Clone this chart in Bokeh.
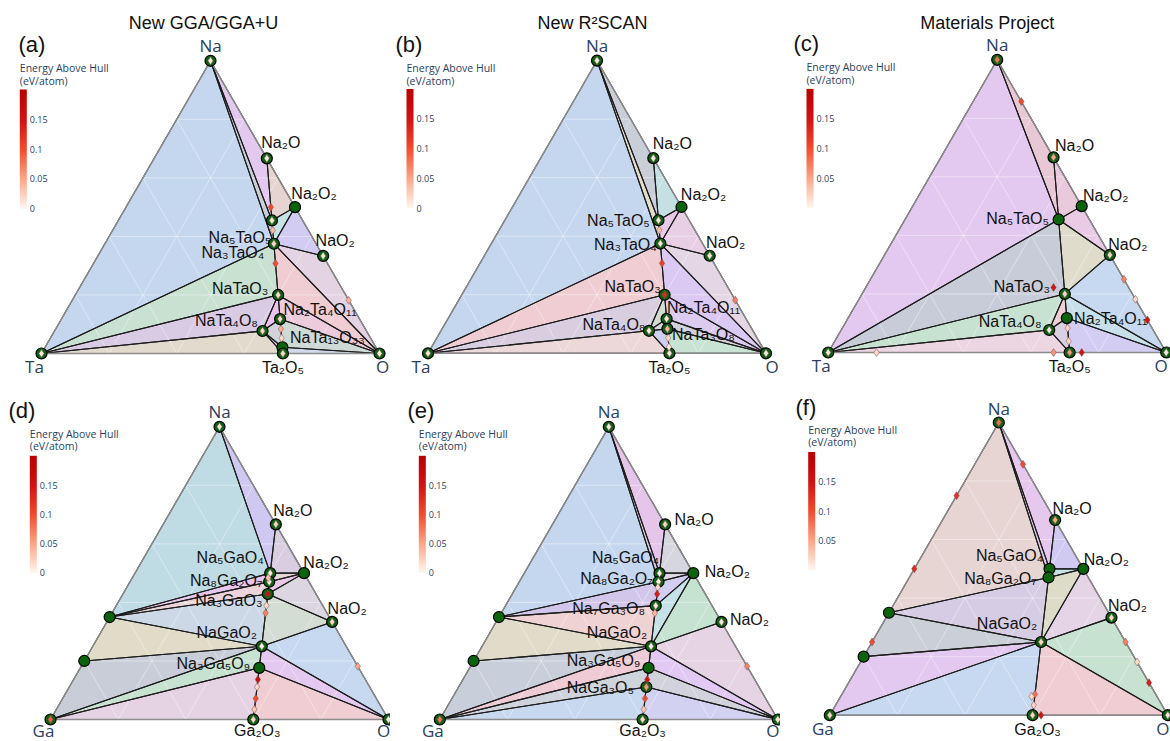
import numpy as np
from bokeh.plotting import figure
from bokeh.models import (Range1d, LinearColorMapper, ColorBar, FixedTicker,
                          CustomJSTickFormatter, Label, ColumnDataSource)
from bokeh.layouts import row, column
from bokeh.core.properties import value
from bokeh.embed import file_html
from bokeh.resources import INLINE

# ============================ DATA ============================
# compositions as atom counts (Na, M, O)
COMP_TA = {
    "Na": (1, 0, 0), "Ta": (0, 1, 0), "O": (0, 0, 1),
    "Na2O": (2, 0, 1), "Na2O2": (2, 0, 2), "NaO2": (1, 0, 2),
    "Na5TaO5": (5, 1, 5), "Na3TaO4": (3, 1, 4), "NaTaO3": (1, 1, 3),
    "Na2Ta4O11": (2, 4, 11), "NaTa4O8": (1, 4, 8), "NaTa13O33": (1, 13, 33),
    "NaTa3O8": (1, 3, 8), "Ta2O5": (0, 2, 5),
    "Na7TaO6": (7, 1, 6), "Na8Ta2O9": (8, 2, 9), "Na4Ta2O7": (4, 2, 7),
    "NaTa5O13": (1, 5, 13), "Na2O9": (2, 0, 9), "Na6O": (6, 0, 1),
    "NaO3": (1, 0, 3), "NaO8": (1, 0, 8), "Na2Ta2O5": (2, 2, 5),
    "TaO2": (0, 1, 2), "TaO3": (0, 1, 3), "NaTa7O18": (1, 7, 18), "Ta6O": (0, 6, 1),
}
COMP_GA = {
    "Na": (1, 0, 0), "Ga": (0, 1, 0), "O": (0, 0, 1),
    "Na2O": (2, 0, 1), "Na2O2": (2, 0, 2), "NaO2": (1, 0, 2),
    "Na5GaO4": (5, 1, 4), "Na8Ga2O7": (8, 2, 7), "Na3GaO3": (3, 1, 3),
    "Na7Ga3O8": (7, 3, 8), "NaGaO2": (1, 1, 2), "Na3Ga5O9": (3, 5, 9),
    "NaGa3O5": (1, 3, 5), "Ga2O3": (0, 2, 3), "Na7Ga13": (7, 13, 0), "NaGa4": (1, 4, 0),
    "Na4Ga2O5": (4, 2, 5), "Na3Ga7O12": (3, 7, 12), "NaGa5O8": (1, 5, 8),
    "NaGa11O17": (1, 11, 17), "Na14Ga4O13": (14, 4, 13), "Na2O9": (2, 0, 9),
    "Na6O": (6, 0, 1), "NaO3": (1, 0, 3), "NaO8": (1, 0, 8),
    "Na3Ga": (3, 1, 0), "NaGa": (1, 1, 0), "NaGa3": (1, 3, 0), "Ga3O5": (0, 3, 5),
    "x_d1": (0.484, 0.114, 0.402), "x_f1": (0.064, 0.371, 0.565),
}

# ---- (a) New GGA/GGA+U, Na-Ta-O
A_STABLE = ["Na", "Ta", "O", "Na2O", "Na2O2", "NaO2", "Na5TaO5", "Na3TaO4", "NaTaO3",
            "Na2Ta4O11", "NaTa4O8", "NaTa13O33", "Ta2O5"]
A_INNER = [0.01, 0.01, 0.01, 0.01, None, 0.01, 0.01, 0.02, 0.015, 0.02, 0.02, None, 0.02]
A_UNSTABLE = ["Na7TaO6", "Na8Ta2O9", "Na4Ta2O7", "NaTa3O8", "NaTa5O13", "Na2O9"]
A_UNSTABLE_E = [0.10, 0.035, 0.10, 0.045, 0.015, 0.04]
A_FACETS = [
    ("Na", "Ta", "Na3TaO4"), ("Na", "Na5TaO5", "Na3TaO4"), ("Na", "Na2O", "Na5TaO5"),
    ("Na2O", "Na2O2", "Na5TaO5"), ("Na5TaO5", "Na2O2", "Na3TaO4"), ("Na3TaO4", "Na2O2", "NaO2"),
    ("Na3TaO4", "NaO2", "O"), ("Na3TaO4", "NaTaO3", "O"), ("NaTaO3", "Na2Ta4O11", "O"),
    ("Na2Ta4O11", "NaTa13O33", "O"), ("NaTa13O33", "Ta2O5", "O"), ("Ta", "Na3TaO4", "NaTaO3"),
    ("Ta", "NaTaO3", "NaTa4O8"), ("Ta", "NaTa4O8", "Ta2O5"), ("NaTaO3", "NaTa4O8", "Na2Ta4O11"),
    ("NaTa4O8", "Na2Ta4O11", "NaTa13O33"), ("NaTa4O8", "NaTa13O33", "Ta2O5"),
]
A_LABELS = ["Na2O", "Na2O2", "NaO2", "Na5TaO5", "Na3TaO4", "NaTaO3", "Na2Ta4O11",
            "NaTa4O8", "NaTa13O33", "Ta2O5"]

# ---- (b) New R2SCAN, Na-Ta-O
B_STABLE = ["Na", "Ta", "O", "Na2O", "Na2O2", "NaO2", "Na5TaO5", "Na3TaO4", "NaTaO3",
            "Na2Ta4O11", "NaTa4O8", "NaTa3O8", "Ta2O5"]
B_INNER = [0.01, 0.01, 0.01, 0.01, None, 0.01, 0.01, 0.01, 0.13, 0.01, 0.01, 0.04, 0.01]
B_UNSTABLE = ["Na8Ta2O9", "Na4Ta2O7", "NaTa5O13", "NaTa13O33", "Na2O9"]
B_UNSTABLE_E = [0.035, 0.11, 0.02, 0.01, 0.07]
B_FACETS = [
    ("Na", "Ta", "Na3TaO4"), ("Na", "Na5TaO5", "Na3TaO4"), ("Na", "Na2O", "Na5TaO5"),
    ("Na2O", "Na2O2", "Na5TaO5"), ("Na5TaO5", "Na2O2", "Na3TaO4"), ("Na3TaO4", "Na2O2", "NaO2"),
    ("Na3TaO4", "NaO2", "O"), ("Na3TaO4", "NaTaO3", "O"), ("NaTaO3", "Na2Ta4O11", "O"),
    ("Na2Ta4O11", "NaTa3O8", "O"), ("NaTa3O8", "Ta2O5", "O"), ("Ta", "Na3TaO4", "NaTaO3"),
    ("Ta", "NaTaO3", "NaTa4O8"), ("Ta", "NaTa4O8", "Ta2O5"), ("NaTaO3", "NaTa4O8", "Na2Ta4O11"),
    ("NaTa4O8", "Na2Ta4O11", "NaTa3O8"), ("NaTa4O8", "NaTa3O8", "Ta2O5"),
]
B_LABELS = ["Na2O", "Na2O2", "NaO2", "Na5TaO5", "Na3TaO4", "NaTaO3", "Na2Ta4O11",
            "NaTa4O8", "NaTa3O8", "Ta2O5"]

# ---- (c) Materials Project, Na-Ta-O
C_STABLE = ["Na", "Ta", "O", "Na2O", "Na2O2", "NaO2", "Na5TaO5", "NaTaO3", "Na2Ta4O11",
            "NaTa4O8", "Ta2O5"]
C_INNER = [0.08, 0.01, 0.01, 0.05, None, 0.02, None, 0.02, None, 0.01, 0.06]
C_UNSTABLE = ["Na6O", "NaO3", "Na2O9", "NaO8", "Na2Ta2O5", "TaO2", "TaO3", "NaTa3O8",
              "NaTa7O18", "Ta6O"]
C_UNSTABLE_E = [0.10, 0.07, 0.02, 0.15, 0.15, 0.06, 0.15, 0.02, 0.02, 0.02]
C_FACETS = [
    ("Na", "Ta", "Na5TaO5"), ("Na", "Na2O", "Na5TaO5"), ("Na2O", "Na2O2", "Na5TaO5"),
    ("Na5TaO5", "Na2O2", "NaO2"), ("Na5TaO5", "NaO2", "NaTaO3"), ("Ta", "Na5TaO5", "NaTaO3"),
    ("NaTaO3", "NaO2", "O"), ("NaTaO3", "Na2Ta4O11", "O"), ("Na2Ta4O11", "Ta2O5", "O"),
    ("Ta", "NaTaO3", "NaTa4O8"), ("Ta", "NaTa4O8", "Ta2O5"), ("NaTaO3", "NaTa4O8", "Na2Ta4O11"),
    ("NaTa4O8", "Na2Ta4O11", "Ta2O5"),
]
C_LABELS = ["Na2O", "Na2O2", "NaO2", "Na5TaO5", "NaTaO3", "Na2Ta4O11", "NaTa4O8", "Ta2O5"]

# ---- (d) New GGA/GGA+U, Na-Ga-O
D_STABLE = ["Na", "Ga", "O", "Na2O", "Na2O2", "NaO2", "Na5GaO4", "Na8Ga2O7", "Na3GaO3",
            "NaGaO2", "Na3Ga5O9", "Ga2O3", "Na7Ga13", "NaGa4"]
D_INNER = [0.01, 0.09, 0.01, 0.02, None, 0.02, 0.005, 0.005, 0.16, 0.005, None, 0.02, None, None]
D_UNSTABLE = ["x_d1", "Na7Ga3O8", "Na4Ga2O5", "Na3Ga7O12", "NaGa3O5", "NaGa5O8",
              "NaGa11O17", "Na2O9"]
D_UNSTABLE_E = [0.03, 0.02, 0.07, 0.16, 0.02, 0.10, 0.03, 0.05]
D_FACETS = [
    ("Na", "Na7Ga13", "Na5GaO4"), ("Na", "Na2O", "Na5GaO4"), ("Na2O", "Na2O2", "Na5GaO4"),
    ("Na5GaO4", "Na2O2", "Na8Ga2O7"), ("Na8Ga2O7", "Na2O2", "Na3GaO3"),
    ("Na3GaO3", "Na2O2", "NaO2"), ("Na3GaO3", "NaO2", "NaGaO2"), ("NaGaO2", "NaO2", "O"),
    ("NaGaO2", "O", "Na3Ga5O9"), ("Na3Ga5O9", "O", "Ga2O3"),
    ("Na7Ga13", "Na5GaO4", "Na8Ga2O7"), ("Na7Ga13", "Na8Ga2O7", "Na3GaO3"),
    ("Na7Ga13", "Na3GaO3", "NaGaO2"), ("Na7Ga13", "NaGa4", "NaGaO2"),
    ("NaGa4", "Ga", "NaGaO2"), ("Ga", "NaGaO2", "Na3Ga5O9"), ("Ga", "Na3Ga5O9", "Ga2O3"),
]
D_LABELS = ["Na2O", "Na2O2", "NaO2", "Na5GaO4", "Na8Ga2O7", "Na3GaO3", "NaGaO2",
            "Na3Ga5O9", "Ga2O3"]

# ---- (e) New R2SCAN, Na-Ga-O
E_STABLE = ["Na", "Ga", "O", "Na2O", "Na2O2", "NaO2", "Na5GaO4", "Na8Ga2O7", "Na7Ga3O8",
            "NaGaO2", "Na3Ga5O9", "NaGa3O5", "Ga2O3", "Na7Ga13", "NaGa4"]
E_INNER = [0.01, 0.08, 0.01, 0.02, None, 0.01, 0.005, 0.005, 0.005, 0.005, None, 0.06,
           0.02, None, None]
E_UNSTABLE = ["Na14Ga4O13", "Na3GaO3", "Na4Ga2O5", "Na3Ga7O12", "NaGa5O8", "NaGa11O17", "Na2O9"]
E_UNSTABLE_E = [0.015, 0.14, 0.04, 0.15, 0.10, 0.03, 0.07]
E_FACETS = [
    ("Na", "Na7Ga13", "Na8Ga2O7"), ("Na", "Na8Ga2O7", "Na5GaO4"), ("Na", "Na5GaO4", "Na2O"),
    ("Na2O", "Na2O2", "Na5GaO4"), ("Na5GaO4", "Na2O2", "Na8Ga2O7"),
    ("Na7Ga13", "Na8Ga2O7", "Na7Ga3O8"), ("Na8Ga2O7", "Na2O2", "Na7Ga3O8"),
    ("Na7Ga3O8", "Na2O2", "NaGaO2"), ("NaGaO2", "Na2O2", "NaO2"), ("NaGaO2", "NaO2", "O"),
    ("NaGaO2", "O", "Na3Ga5O9"), ("Na3Ga5O9", "O", "NaGa3O5"), ("NaGa3O5", "O", "Ga2O3"),
    ("Na7Ga13", "Na7Ga3O8", "NaGaO2"), ("Na7Ga13", "NaGa4", "NaGaO2"),
    ("NaGa4", "Ga", "NaGaO2"), ("Ga", "NaGaO2", "Na3Ga5O9"), ("Ga", "Na3Ga5O9", "NaGa3O5"),
    ("Ga", "NaGa3O5", "Ga2O3"),
]
E_LABELS = ["Na2O", "Na2O2", "NaO2", "Na5GaO4", "Na8Ga2O7", "Na7Ga3O8", "NaGaO2",
            "Na3Ga5O9", "NaGa3O5", "Ga2O3"]

# ---- (f) Materials Project, Na-Ga-O
F_STABLE = ["Na", "Ga", "O", "Na2O", "Na2O2", "NaO2", "Na5GaO4", "Na8Ga2O7", "NaGaO2",
            "Ga2O3", "Na7Ga13", "NaGa4"]
F_INNER = [0.08, 0.02, 0.01, 0.05, None, 0.02, None, None, 0.02, 0.02, None, None]
F_UNSTABLE = ["Na3Ga", "NaGa", "NaGa3", "Na6O", "NaO3", "Na2O9", "NaO8", "NaGa5O8",
              "x_f1", "NaGa11O17", "Ga3O5"]
F_UNSTABLE_E = [0.12, 0.13, 0.10, 0.10, 0.07, 0.02, 0.14, 0.08, 0.02, 0.02, 0.15]
F_FACETS = [
    ("Na", "Na7Ga13", "Na8Ga2O7"), ("Na", "Na8Ga2O7", "Na5GaO4"), ("Na", "Na5GaO4", "Na2O"),
    ("Na2O", "Na2O2", "Na5GaO4"), ("Na5GaO4", "Na2O2", "Na8Ga2O7"),
    ("Na8Ga2O7", "Na2O2", "NaGaO2"), ("NaGaO2", "Na2O2", "NaO2"), ("NaGaO2", "NaO2", "O"),
    ("NaGaO2", "O", "Ga2O3"), ("Na7Ga13", "Na8Ga2O7", "NaGaO2"),
    ("Na7Ga13", "NaGa4", "NaGaO2"), ("NaGa4", "Ga", "NaGaO2"), ("Ga", "NaGaO2", "Ga2O3"),
]
F_LABELS = ["Na2O", "Na2O2", "NaO2", "Na5GaO4", "Na8Ga2O7", "NaGaO2", "Ga2O3"]

TITLES = ["New GGA/GGA+U", "New R²SCAN", "Materials Project"]
PANEL_TAGS = ["(a)", "(b)", "(c)", "(d)", "(e)", "(f)"]
CB_TITLE = ["Energy Above Hull", "(eV/atom)"]
CB_TICKS_FULL = [0, 0.05, 0.1, 0.15]
CB_TICKS_MP = [0.05, 0.1, 0.15]

# ============================ STYLE / LAYOUT ============================
A_COLORS = ["#c5d7ef", "#c9cfd6", "#e3c9ef", "#e5d4cf", "#c6e3e6", "#d2cbf2", "#e4d3e2",
            "#efcdd2", "#ecccdc", "#cfd9d6", "#d0d8ea", "#c8e1d1", "#dacbe5", "#e3dace",
            "#e9c5ea", "#d0d4d8", "#e3d3ea"]
B_COLORS = ["#c5d7ef", "#e2dccb", "#c9ced8", "#c5e0e2", "#e8c9e8", "#e9cfe6", "#e5d6e4",
            "#dbc9f3", "#dccbef", "#d3d0dc", "#c8e3d3", "#efcdd2", "#d8cee0", "#ecd8d8",
            "#d3dccf", "#d8d2e2", "#cdd0f0"]
C_COLORS = ["#e3c9ef", "#e9c8d6", "#eac9dc", "#eacbe6", "#dfdccb", "#c8ccd8", "#c6d9f0",
            "#c8e0ea", "#d3cdf3", "#c8e2d1", "#ecd6e2", "#f0d0d6", "#d9d0e3"]
D_COLORS = ["#bfdbe3", "#cfc9f1", "#d9cde1", "#e6d6d6", "#e8c9e6", "#dcd6e0", "#d3ddd3",
            "#c6d9f0", "#e3c8f0", "#efcdd2", "#e6c6ec", "#ecd3da", "#cdd8e6", "#e0dcc8",
            "#c9cdd8", "#c8e2d1", "#e5d2e3"]
E_COLORS = ["#c5d7ef", "#d8cce6", "#e5c6ea", "#d6d6de", "#dcd8e4", "#d2c7ea", "#d4cdf2",
            "#c6e2e8", "#c6e2d1", "#e6d4e4", "#e1c9f4", "#d1d2dc", "#d3d1f2", "#efd2d2",
            "#e1dcc9", "#c9cfda", "#efcbd5", "#cfd3dc", "#c8d8ee"]
F_COLORS = ["#e7d5d4", "#e0c8ea", "#e6c7ed", "#d0c9f2", "#c6e2e9", "#dcdcc9", "#e5d3e6",
            "#c8e2d2", "#efcdd3", "#d6cde4", "#cacfd8", "#e3c8ef", "#c7d9f0"]

LAYOUTS = [
    dict(size=(390, 377), origin=(41.0, 24.0), cb=(19.3, 169.0, 119), cbt=(19.3, 67.5, 80.5),
         title=(203, 22.5), tag=(18, 44), vert=((0, -15), (-7, 13), (3, 13)),
         off={"Na2O": (14, -16), "Na2O2": (19, -14), "NaO2": (12, -15), "Na5TaO5": (-32, 17),
              "Na3TaO4": (-41, 9), "NaTaO3": (-38, -6), "Na2Ta4O11": (40, -10),
              "NaTa4O8": (-36, -10), "NaTa13O33": (45, -10), "Ta2O5": (0, 14)}),
    dict(size=(390, 377), origin=(37.5, 24.2), cb=(16.0, 169.5, 119), cbt=(16.0, 67.5, 80.5),
         title=(202, 22.5), tag=(5, 44), vert=((0, -15), (-7, 13), (6, 13)),
         off={"Na2O": (19, -15), "Na2O2": (22, -12), "NaO2": (16, -13), "Na5TaO5": (-40, 0),
              "Na3TaO4": (-35, 1), "NaTaO3": (-32, -8), "Na2Ta4O11": (37, -11),
              "NaTa4O8": (-35, -6), "NaTa3O8": (36, 6), "Ta2O5": (0, 14)}),
    dict(size=(390, 377), origin=(47.7, 25.0), cb=(26.0, 169.6, 119), cbt=(26.0, 66.7, 79.5),
         title=(206.7, 22.5), tag=(13, 43), vert=((0, -15), (-7, 13), (-5, 13)),
         off={"Na2O": (21, -12), "Na2O2": (24, -11), "NaO2": (18, -10), "Na5TaO5": (-41, -1),
              "NaTaO3": (-43, -7), "NaTa4O8": (-39, -8), "Na2Ta4O11": (44, 0), "Ta2O5": (0, 14)}),
    dict(size=(390, 364), origin=(50.0, 22.0), cb=(29.3, 168.7, 117), cbt=(29.3, 56.0, 68.7),
         title=None, tag=(8, 33), vert=((0, -15), (-7, 11), (-5, 11)),
         off={"Na2O": (17, -14), "Na2O2": (22, -11), "NaO2": (15, -13), "Na5GaO4": (-40, -16),
              "Na8Ga2O7": (-43, -1), "Na3GaO3": (-39, 6), "NaGaO2": (-35, -14),
              "Na3Ga5O9": (-46, -4), "Ga2O3": (4, 11)}),
    dict(size=(390, 364), origin=(49.3, 22.0), cb=(28.3, 168.7, 117), cbt=(28.3, 56.0, 68.7),
         title=None, tag=(17, 33), vert=((0, -15), (-7, 11), (-5, 11)),
         off={"Na2O": (29, -5), "Na2O2": (34, -2), "NaO2": (28, -2), "Na5GaO4": (-34, -16),
              "Na8Ga2O7": (-42, -3), "Na7Ga3O8": (-47, 3), "NaGaO2": (-34, -14),
              "Na3Ga5O9": (-45, -7), "NaGa3O5": (-46, 1), "Ga2O3": (0, 11)}),
    dict(size=(390, 364), origin=(49.3, 26.3), cb=(27.7, 171.5, 118), cbt=(27.7, 52.3, 64.0),
         title=None, tag=(15, 30), vert=((0, -14), (-7, 13), (-5, 13)),
         off={"Na2O": (17, -12), "Na2O2": (23, -9), "NaO2": (16, -12), "Na5GaO4": (-40, -13),
              "Na8Ga2O7": (-48, 1), "NaGaO2": (-34, -19), "Ga2O3": (5, 14)}),
]

SCALE = 338.0
R3 = np.sqrt(3) / 2
SUB = str.maketrans("0123456789", "₀₁₂₃₄₅₆₇₈₉")
AXIS_COLOR = "#2a3f5f"


def make_palette():
    anchors = [(0.0, (255, 245, 238)), (0.25, (252, 165, 135)), (0.5, (240, 75, 45)),
               (0.75, (208, 18, 18)), (1.0, (185, 0, 0))]
    out = []
    for i in range(256):
        t = i / 255
        for (t0, c0), (t1, c1) in zip(anchors[:-1], anchors[1:]):
            if t0 <= t <= t1:
                f = (t - t0) / (t1 - t0)
                c = tuple(int(round(a + (b - a) * f)) for a, b in zip(c0, c1))
                out.append("#%02x%02x%02x" % c)
                break
    return out


PALETTE = make_palette()


def to_xy(c):
    na, m, o = c
    t = na + m + o
    return (o + 0.5 * na) / t, R3 * na / t


def panel(comp, metal, stable, inner, unstable, unstable_e, facets, colors, labels,
          lay, title, tag, ticks):
    W, H = lay["size"]
    ox, oy = lay["origin"]
    p = figure(width=W, height=H,
               x_range=Range1d(-ox / SCALE, (W - ox) / SCALE),
               y_range=Range1d(-oy / SCALE, (H - oy) / SCALE),
               output_backend="svg", toolbar_location=None, min_border=0,
               x_axis_location=None, y_axis_location=None)
    p.grid.grid_line_color = None
    p.outline_line_color = None
    p.background_fill_color = "white"
    p.border_fill_color = "white"

    mapper = LinearColorMapper(palette=PALETTE, low=0, high=0.2)

    xs, ys = [], []
    for f in facets:
        pts = [to_xy(comp[n]) for n in f]
        xs.append([q[0] for q in pts])
        ys.append([q[1] for q in pts])
    p.patches(xs, ys, fill_color=colors, fill_alpha=1.0, line_color=None)

    gx, gy = [], []
    for k in (0.2, 0.4, 0.6, 0.8):
        for a, b in (((k, 1 - k, 0), (k, 0, 1 - k)),
                     ((1 - k, k, 0), (0, k, 1 - k)),
                     ((1 - k, 0, k), (0, 1 - k, k))):
            pa, pb = to_xy(a), to_xy(b)
            gx.append([pa[0], pb[0]])
            gy.append([pa[1], pb[1]])
    p.multi_line(gx, gy, line_color="white", line_alpha=0.4, line_width=1)

    p.patches(xs, ys, fill_alpha=0, line_color="#1c1c1c", line_width=1.1)
    tri = [to_xy(comp[n]) for n in ("Na", metal, "O")]
    p.patch([q[0] for q in tri], [q[1] for q in tri], fill_alpha=0,
            line_color="#8c8c8c", line_width=1.4)

    # compound labels
    lx, ly, lt, ldx, ldy = [], [], [], [], []
    for n in labels:
        x, y = to_xy(comp[n])
        dx, dy = lay["off"][n]
        lx.append(x); ly.append(y); lt.append(n.translate(SUB)); ldx.append(dx); ldy.append(dy)
    p.text(x=lx, y=ly, text=lt, x_offset=ldx, y_offset=ldy, text_align="center",
           text_baseline="middle", text_font=value("Liberation Sans"),
           text_font_size="16px", text_color="#111111")

    # vertex labels
    vx, vy, vt, vdx, vdy = [], [], [], [], []
    for n, (dx, dy) in zip(("Na", metal, "O"), lay["vert"]):
        x, y = to_xy(comp[n])
        vx.append(x); vy.append(y); vt.append(n); vdx.append(dx); vdy.append(dy)
    p.text(x=vx, y=vy, text=vt, x_offset=vdx, y_offset=vdy, text_align="center",
           text_baseline="middle", text_font=value("Open Sans"), text_font_size="17px",
           text_color=AXIS_COLOR)

    # stable phases
    sxy = [to_xy(comp[n]) for n in stable]
    p.scatter([q[0] for q in sxy], [q[1] for q in sxy], marker="circle", size=11,
              fill_color="#0b640b", line_color="black", line_width=1.2)
    ins = ColumnDataSource(dict(
        x=[q[0] for q, v in zip(sxy, inner) if v is not None],
        y=[q[1] for q, v in zip(sxy, inner) if v is not None],
        e=[v for v in inner if v is not None]))
    p.scatter("x", "y", source=ins, marker="diamond", size=8,
              fill_color={"field": "e", "transform": mapper},
              line_color="#5a5a5a", line_width=0.6)

    uxy = [to_xy(comp[n]) for n in unstable]
    uns = ColumnDataSource(dict(x=[q[0] for q in uxy], y=[q[1] for q in uxy], e=unstable_e))
    p.scatter("x", "y", source=uns, marker="diamond", size=8,
              fill_color={"field": "e", "transform": mapper},
              line_color="#7a5050", line_width=0.5)

    # colour bar
    cbx, cby, cbh = lay["cb"]
    cb = ColorBar(color_mapper=mapper, location=(cbx, cby), width=7, height=cbh,
                  padding=0, margin=0, ticker=FixedTicker(ticks=ticks),
                  formatter=CustomJSTickFormatter(code="return tick.toString()"),
                  major_label_text_font_size="9px", major_label_text_font="Open Sans",
                  major_label_text_color=AXIS_COLOR, major_tick_line_color=None,
                  minor_tick_line_color=None, bar_line_color=None, border_line_color=None,
                  background_fill_alpha=0, label_standoff=3)
    p.add_layout(cb)
    tx, t1, t2 = lay["cbt"]
    for txt, top in zip(CB_TITLE, (t1, t2)):
        p.add_layout(Label(x=tx, y=H - top, x_units="screen", y_units="screen", text=txt,
                           text_baseline="middle", text_align="left", text_font="Open Sans",
                           text_font_size="10.5px", text_color=AXIS_COLOR))

    if title is not None:
        p.add_layout(Label(x=lay["title"][0], y=H - lay["title"][1], x_units="screen",
                           y_units="screen", text=title, text_align="center",
                           text_baseline="middle", text_font="Liberation Sans",
                           text_font_size="18px", text_color="#111111"))
    p.add_layout(Label(x=lay["tag"][0], y=H - lay["tag"][1], x_units="screen",
                       y_units="screen", text=tag, text_align="left", text_baseline="middle",
                       text_font="Liberation Sans", text_font_size="22px",
                       text_color="#111111"))
    return p


pa = panel(COMP_TA, "Ta", A_STABLE, A_INNER, A_UNSTABLE, A_UNSTABLE_E, A_FACETS, A_COLORS,
           A_LABELS, LAYOUTS[0], TITLES[0], PANEL_TAGS[0], CB_TICKS_FULL)
pb = panel(COMP_TA, "Ta", B_STABLE, B_INNER, B_UNSTABLE, B_UNSTABLE_E, B_FACETS, B_COLORS,
           B_LABELS, LAYOUTS[1], TITLES[1], PANEL_TAGS[1], CB_TICKS_FULL)
pc = panel(COMP_TA, "Ta", C_STABLE, C_INNER, C_UNSTABLE, C_UNSTABLE_E, C_FACETS, C_COLORS,
           C_LABELS, LAYOUTS[2], TITLES[2], PANEL_TAGS[2], CB_TICKS_MP)
pd_ = panel(COMP_GA, "Ga", D_STABLE, D_INNER, D_UNSTABLE, D_UNSTABLE_E, D_FACETS, D_COLORS,
            D_LABELS, LAYOUTS[3], None, PANEL_TAGS[3], CB_TICKS_FULL)
pe = panel(COMP_GA, "Ga", E_STABLE, E_INNER, E_UNSTABLE, E_UNSTABLE_E, E_FACETS, E_COLORS,
           E_LABELS, LAYOUTS[4], None, PANEL_TAGS[4], CB_TICKS_FULL)
pf = panel(COMP_GA, "Ga", F_STABLE, F_INNER, F_UNSTABLE, F_UNSTABLE_E, F_FACETS, F_COLORS,
           F_LABELS, LAYOUTS[5], None, PANEL_TAGS[5], CB_TICKS_MP)

layout = column(row(pa, pb, pc), row(pd_, pe, pf))
open("out.html", "w").write(file_html(layout, INLINE, "Phase diagrams"))
